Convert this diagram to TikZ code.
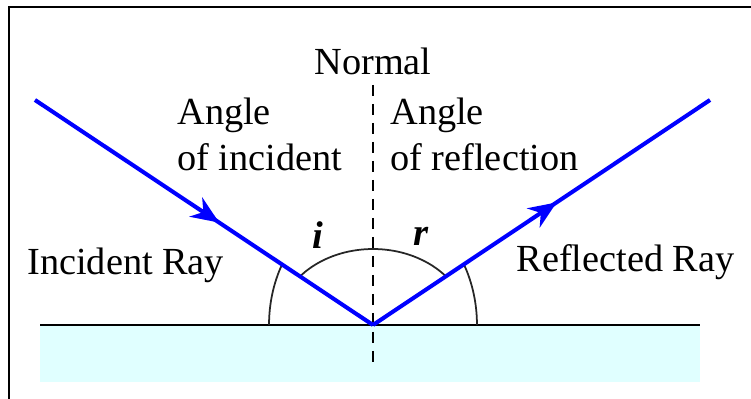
\documentclass[tikz,border=0pt]{standalone}
\usepackage{fontspec}
\setmainfont{Liberation Serif}
\usetikzlibrary{arrows.meta, positioning, decorations.markings}
\definecolor{water}{RGB}{224,255,255}
\begin{document}
\begin{tikzpicture}[x=0.02cm, y=0.02cm,
    txt/.style={font=\fontsize{21.8}{26}\selectfont, inner sep=0pt, align=left},
    sym/.style={font=\fontsize{22}{26}\selectfont\bfseries\itshape, inner sep=0pt},
    ray/.style={draw=blue, line width=2.3pt, postaction={decorate},
      decoration={markings, mark=at position 0.545 with {\arrow{Stealth[length=5.6mm, width=4.6mm, inset=1.8mm]}}}},
    arcline/.style={draw=black!85, line width=1pt}]
  \useasboundingbox (0,0) rectangle (751,399);
  \draw[line width=1.1pt] (9,0) -- (9,392) -- (751,392);
  \coordinate (O) at (373,74);
  \coordinate (src) at (35,299);
  \coordinate (dst) at (710,299);
  \coordinate (sL) at (40,74);
  \coordinate (sR) at (700,74);
  \coordinate (nTop) at (373,314);
  \coordinate (nBot) at (373,36);
  \fill[water] (sL) rectangle (700,17);
  \draw[line width=1.1pt] (sL) -- (sR);
  \draw[dash pattern=on 2.2mm off 1.6mm, line width=0.8pt] (nTop) -- (nBot);
  \draw[arcline] (O) ++(-2.08cm,0) arc[start angle=180, end angle=151, x radius=2.08cm, y radius=2.5cm];
  \draw[arcline] (O) ++(2.08cm,0) arc[start angle=0, end angle=29, x radius=2.08cm, y radius=2.5cm];
  \draw[arcline] (O) ++(39.8:1.9cm and 1.52cm) arc[start angle=39.8, end angle=140.2, x radius=1.9cm, y radius=1.52cm];
  \draw[ray] (src) -- (O);
  \draw[ray] (O) -- (dst);
  \node[txt, anchor=base] (normal) at (373,324) {Normal};
  \node[txt, anchor=north west] (angI) at (177,301) {Angle\\of incident};
  \node[txt, anchor=north west] (angR) at (390,301) {Angle\\of reflection};
  \node[txt, anchor=base west] (incRay) at (27,124) {Incident Ray};
  \node[txt, anchor=base east] (refRay) at (735,127) {Reflected Ray};
  \node[sym] (i) at (318,164) {i};
  \node[sym] (r) at (421,163) {r};
\end{tikzpicture}
\end{document}
